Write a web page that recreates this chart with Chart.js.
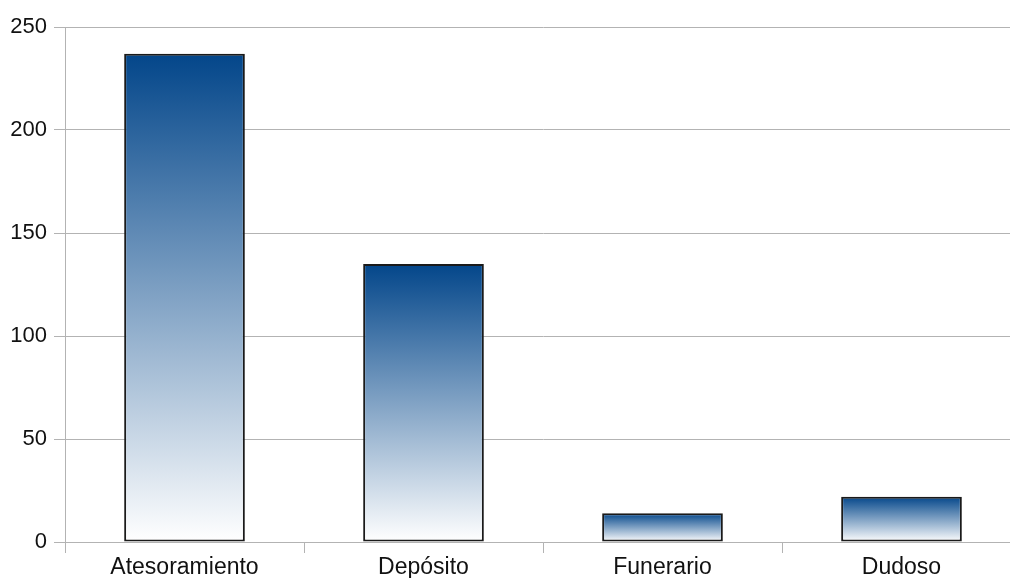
<!DOCTYPE html>
<html>
<head>
<meta charset="utf-8">
<script src="https://cdn.jsdelivr.net/npm/chart.js@4/dist/chart.umd.min.js"></script>
<style>
  html, body { margin: 0; padding: 0; background: #fff; overflow: hidden; }
  /* the plot runs a little past the right edge, like the original */
  #wrap { width: 1023px; height: 578px; }
</style>
</head>
<body>
<div id="wrap"><canvas id="barChart"></canvas></div>
<script>
// chart data
const categories = ["Atesoramiento", "Depósito", "Funerario", "Dudoso"];
const counts = [237, 135, 14, 22];
const yTicks = [0, 50, 100, 150, 200, 250];

// each bar gets its own dark-to-white gradient, top to bottom
function barGradient(context) {
    const chart = context.chart;
    const yScale = chart.scales.y;
    if (!yScale || context.dataIndex === undefined) return "#0b4a8c";
    const top = yScale.getPixelForValue(counts[context.dataIndex]);
    const base = yScale.getPixelForValue(0);
    if (!isFinite(top) || !isFinite(base) || top === base) return "#0b4a8c";
    const grad = chart.ctx.createLinearGradient(0, top, 0, base);
    grad.addColorStop(0, "#03468a");
    grad.addColorStop(1, "#ffffff");
    return grad;
}

const ctx = document.getElementById("barChart");
new Chart(ctx, {
    type: "bar",
    data: {
        labels: categories,
        datasets: [{
            data: counts,
            backgroundColor: barGradient,
            borderColor: "#1a1a1a",
            borderWidth: 2,
            borderSkipped: false,
            barPercentage: 0.505,
            categoryPercentage: 1
        }]
    },
    options: {
        responsive: true,
        maintainAspectRatio: false,
        animation: false,
        layout: { padding: { top: 27, right: 2, left: 0, bottom: 0 } },
        plugins: {
            legend: { display: false },
            tooltip: { enabled: false }
        },
        scales: {
            x: {
                grid: {
                    offset: true,
                    drawOnChartArea: false,
                    drawTicks: true,
                    tickLength: 11,
                    color: "#b3b3b3"
                },
                border: { color: "#b3b3b3" },
                ticks: {
                    color: "#111",
                    font: { family: "Liberation Sans", size: 23 },
                    padding: 1,
                    maxRotation: 0
                },
                afterFit: scale => { scale.height = 36; }
            },
            y: {
                min: 0,
                max: 250,
                afterBuildTicks: scale => {
                    scale.ticks = yTicks.map(v => ({ value: v }));
                },
                grid: {
                    color: "#b3b3b3",
                    tickLength: 11
                },
                border: { color: "#b3b3b3" },
                ticks: {
                    color: "#111",
                    font: { family: "Liberation Sans", size: 22 },
                    padding: 7
                },
                afterFit: scale => { scale.width = 65; }
            }
        }
    }
});
</script>
</body>
</html>
